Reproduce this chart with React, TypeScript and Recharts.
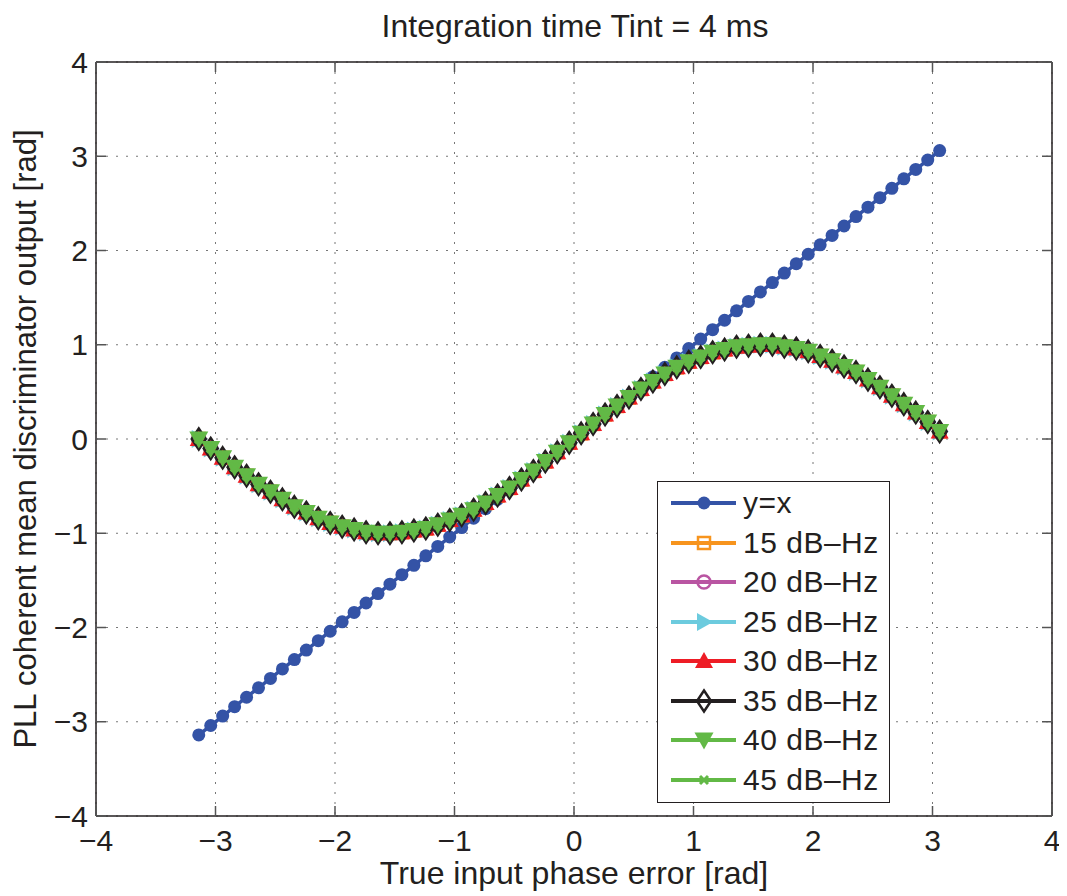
import React from 'react';
import { LineChart, Line, XAxis, YAxis, CartesianGrid, Legend, Label } from 'recharts';

// true input phase error [rad], one point every 0.1 rad
const phaseErr = [
  -3.14, -3.04, -2.94, -2.84, -2.74, -2.64, -2.54, -2.44, -2.34, -2.24, -2.14,
  -2.04, -1.94, -1.84, -1.74, -1.64, -1.54, -1.44, -1.34, -1.24, -1.14, -1.04,
  -0.94, -0.84, -0.74, -0.64, -0.54, -0.44, -0.34, -0.24, -0.14, -0.04, 0.06,
  0.16, 0.26, 0.36, 0.46, 0.56, 0.66, 0.76, 0.86, 0.96, 1.06, 1.16, 1.26, 1.36,
  1.46, 1.56, 1.66, 1.76, 1.86, 1.96, 2.06, 2.16, 2.26, 2.36, 2.46, 2.56, 2.66,
  2.76, 2.86, 2.96, 3.06,
];

// reference line y = x
const identityOut = [
  -3.14, -3.04, -2.94, -2.84, -2.74, -2.64, -2.54, -2.44, -2.34, -2.24, -2.14,
  -2.04, -1.94, -1.84, -1.74, -1.64, -1.54, -1.44, -1.34, -1.24, -1.14, -1.04,
  -0.94, -0.84, -0.74, -0.64, -0.54, -0.44, -0.34, -0.24, -0.14, -0.04, 0.06,
  0.16, 0.26, 0.36, 0.46, 0.56, 0.66, 0.76, 0.86, 0.96, 1.06, 1.16, 1.26, 1.36,
  1.46, 1.56, 1.66, 1.76, 1.86, 1.96, 2.06, 2.16, 2.26, 2.36, 2.46, 2.56, 2.66,
  2.76, 2.86, 2.96, 3.06,
];

// mean discriminator output, all C/N0 curves sit on top of each other
const discOut = [
  0, -0.1, -0.2, -0.3, -0.39, -0.48, -0.56, -0.64, -0.72, -0.78, -0.84,
  -0.89, -0.93, -0.96, -0.99, -1.0, -1.0, -0.99, -0.97, -0.95, -0.91, -0.86,
  -0.81, -0.75, -0.68, -0.6, -0.52, -0.43, -0.34, -0.24, -0.14, -0.04, 0.06,
  0.16, 0.26, 0.35, 0.44, 0.53, 0.61, 0.69, 0.76, 0.82, 0.87, 0.92, 0.95, 0.98,
  0.99, 1.0, 1.0, 0.98, 0.96, 0.93, 0.88, 0.83, 0.77, 0.71, 0.63, 0.55, 0.46,
  0.37, 0.28, 0.18, 0.08,
];

const axisTicks = [-4, -3, -2, -1, 0, 1, 2, 3, 4];

const seriesKeys = ['yx', 'c15', 'c20', 'c25', 'c30', 'c35', 'c40', 'c45'];
const seriesNames = ['y=x', '15 dB–Hz', '20 dB–Hz', '25 dB–Hz', '30 dB–Hz', '35 dB–Hz', '40 dB–Hz', '45 dB–Hz'];
const seriesColors = ['#3453a6', '#f7941d', '#b955a2', '#6ccbde', '#ee1c25', '#231f20', '#62b946', '#62b946'];
const seriesMarkers = ['dot', 'square', 'ring', 'right', 'up', 'diamond', 'down', 'cross'];

const data = phaseErr.map((x, i) => ({
  x,
  yx: identityOut[i],
  c15: discOut[i],
  c20: discOut[i],
  c25: discOut[i],
  c30: discOut[i],
  c35: discOut[i],
  c40: discOut[i],
  c45: discOut[i],
}));

const FONT = '"Liberation Sans", Arial, Helvetica, sans-serif';
const INK = '#231f20';
const PLOT_W = 956;
const PLOT_H = 754;

const fmt = (v: number) => (v < 0 ? `\u2212${Math.abs(v)}` : `${v}`);

function drawMarker(kind: string, color: string, cx: number, cy: number, key?: string) {
  switch (kind) {
    case 'dot':
      return <circle key={key} cx={cx} cy={cy} r={6.5} fill={color} />;
    case 'square':
      return <rect key={key} x={cx - 6} y={cy - 6} width={12} height={12} fill="none" stroke={color} strokeWidth={2.5} />;
    case 'ring':
      return <circle key={key} cx={cx} cy={cy} r={6.5} fill="none" stroke={color} strokeWidth={2.5} />;
    case 'right':
      return <polygon key={key} points={`${cx - 7},${cy - 9} ${cx + 9},${cy} ${cx - 7},${cy + 9}`} fill={color} />;
    case 'up':
      return <polygon key={key} points={`${cx},${cy - 9} ${cx + 9},${cy + 7} ${cx - 9},${cy + 7}`} fill={color} />;
    case 'down':
      return <polygon key={key} points={`${cx - 9.5},${cy - 7.5} ${cx + 9.5},${cy - 7.5} ${cx},${cy + 9.5}`} fill={color} />;
    case 'diamond':
      return (
        <polygon key={key} points={`${cx},${cy - 10.5} ${cx + 7},${cy} ${cx},${cy + 10.5} ${cx - 7},${cy}`}
          fill="none" stroke={color} strokeWidth={2.5} />
      );
    default:
      return (
        <path key={key} d={`M${cx - 4},${cy - 4}L${cx + 4},${cy + 4}M${cx + 4},${cy - 4}L${cx - 4},${cy + 4}`}
          stroke={color} strokeWidth={3} />
      );
  }
}

// inward ticks on bottom and top edges, label below
const BottomTick = (props: any) => {
  const { x, y, payload } = props;
  return (
    <g>
      <line x1={x} y1={y} x2={x} y2={y - 10} stroke="#555" strokeWidth={1.5} />
      <line x1={x} y1={y - PLOT_H} x2={x} y2={y - PLOT_H + 10} stroke="#555" strokeWidth={1.5} />
      <text x={x} y={y + 35} textAnchor="middle" fontSize={30} fontFamily={FONT} fill={INK}>
        {fmt(payload.value)}
      </text>
    </g>
  );
};

// inward ticks on left and right edges, label left
const LeftTick = (props: any) => {
  const { x, y, payload } = props;
  return (
    <g>
      <line x1={x} y1={y} x2={x + 10} y2={y} stroke="#555" strokeWidth={1.5} />
      <line x1={x + PLOT_W} y1={y} x2={x + PLOT_W - 10} y2={y} stroke="#555" strokeWidth={1.5} />
      <text x={x - 8} y={y + 10.5} textAnchor="end" fontSize={30} fontFamily={FONT} fill={INK}>
        {fmt(payload.value)}
      </text>
    </g>
  );
};

const renderLegend = () => (
  <div
    style={{
      width: 233,
      height: 322,
      border: `1.5px solid ${INK}`,
      background: '#fff',
      boxSizing: 'border-box',
      position: 'relative',
      fontFamily: FONT,
    }}
  >
    {seriesNames.map((name, i) => (
      <div
        key={name}
        style={{ position: 'absolute', left: 0, top: 1 + 39.5 * i, height: 40, display: 'flex', alignItems: 'center' }}
      >
        <svg width={85} height={40}>
          <line x1={13} y1={20} x2={78} y2={20} stroke={seriesColors[i]} strokeWidth={4} />
          {drawMarker(seriesMarkers[i], seriesColors[i], 46, 20)}
        </svg>
        <span style={{ fontSize: 30, letterSpacing: 0.5, color: INK, whiteSpace: 'nowrap' }}>{name}</span>
      </div>
    ))}
  </div>
);

export default function App() {
  return (
    <div style={{ width: 1059, height: 888, background: '#fff' }}>
      <LineChart width={1059} height={888} data={data} margin={{ top: 53, right: 14, bottom: 0, left: 8 }}>
        <CartesianGrid stroke="#777" strokeDasharray="2 8" strokeWidth={1} />
        <XAxis
          dataKey="x"
          type="number"
          domain={[-4, 4]}
          ticks={axisTicks}
          allowDataOverflow
          height={80}
          tickSize={0}
          tickMargin={0}
          tickLine={false}
          axisLine={{ stroke: INK, strokeWidth: 1.5 }}
          tick={<BottomTick />}
        >
          <Label
            content={() => (
              <text x={566} y={876} textAnchor="middle" fontSize={32} fontFamily={FONT} fill={INK}>
                True input phase error [rad]
              </text>
            )}
          />
        </XAxis>
        <XAxis
          xAxisId="top"
          orientation="top"
          type="number"
          domain={[-4, 4]}
          allowDataOverflow
          height={1}
          tick={false}
          tickLine={false}
          axisLine={{ stroke: INK, strokeWidth: 1.5 }}
        >
          <Label
            content={() => (
              <text x={567} y={29} textAnchor="middle" fontSize={32} fontFamily={FONT} fill={INK}>
                Integration time Tint = 4 ms
              </text>
            )}
          />
        </XAxis>
        <YAxis
          type="number"
          domain={[-4, 4]}
          ticks={axisTicks}
          allowDataOverflow
          width={80}
          tickSize={0}
          tickMargin={0}
          tickLine={false}
          axisLine={{ stroke: INK, strokeWidth: 1.5 }}
          tick={<LeftTick />}
        >
          <Label
            content={() => (
              <text x={28} y={431} transform="rotate(-90, 28, 431)" textAnchor="middle" fontSize={31}
                fontFamily={FONT} fill={INK}>
                PLL coherent mean discriminator output [rad]
              </text>
            )}
          />
        </YAxis>
        <YAxis
          yAxisId="right"
          orientation="right"
          type="number"
          domain={[-4, 4]}
          allowDataOverflow
          width={1}
          tick={false}
          tickLine={false}
          axisLine={{ stroke: INK, strokeWidth: 1.5 }}
        />
        <Legend
          layout="horizontal"
          verticalAlign="middle"
          align="center"
          content={renderLegend}
          wrapperStyle={{ left: 649, top: 473, width: 233, height: 322 }}
        />
        {seriesKeys.map((key, i) => (
          <Line
            key={key}
            dataKey={key}
            type="linear"
            stroke={seriesColors[i]}
            strokeWidth={3.5}
            isAnimationActive={false}
            activeDot={false}
            dot={(p: any) => drawMarker(seriesMarkers[i], seriesColors[i], p.cx, p.cy, `${key}-${p.index}`)}
          />
        ))}
      </LineChart>
    </div>
  );
}
